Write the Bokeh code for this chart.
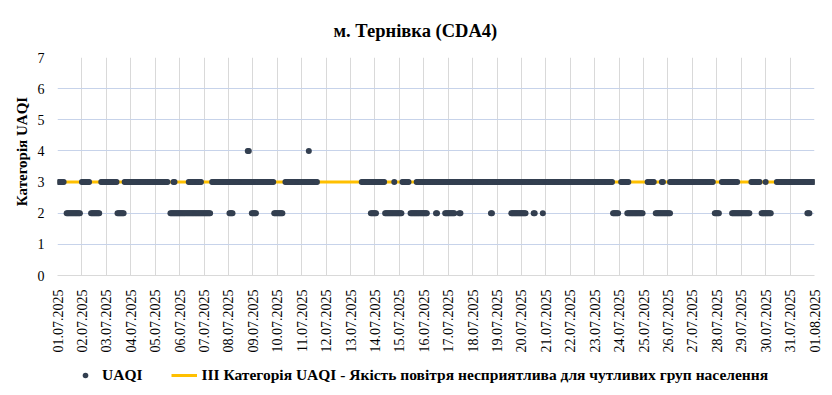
from bokeh.plotting import figure
from bokeh.models import FixedTicker, Legend, LegendItem, Range1d, ColumnDataSource
from bokeh.layouts import column
from bokeh.embed import file_html
from bokeh.resources import INLINE
import math

# ---- data (hour index since 01.07.2025 00:00; runs of hourly points) ----
day_labels = ["01.07.2025", "02.07.2025", "03.07.2025", "04.07.2025", "05.07.2025",
              "06.07.2025", "07.07.2025", "08.07.2025", "09.07.2025", "10.07.2025",
              "11.07.2025", "12.07.2025", "13.07.2025", "14.07.2025", "15.07.2025",
              "16.07.2025", "17.07.2025", "18.07.2025", "19.07.2025", "20.07.2025",
              "21.07.2025", "22.07.2025", "23.07.2025", "24.07.2025", "25.07.2025",
              "26.07.2025", "27.07.2025", "28.07.2025", "29.07.2025", "30.07.2025",
              "31.07.2025", "01.08.2025"]

cat3_runs = [(1, 6), (24, 31), (43, 58), (66, 108), (114, 115), (129, 141), (152, 212),
             (224, 240), (242, 255), (299, 321), (331, 331), (339, 345), (353, 545),
             (554, 561), (580, 586), (594, 595), (602, 644), (653, 668), (682, 690),
             (696, 696), (707, 744)]
cat2_runs = [(9, 22), (33, 41), (59, 65), (111, 150), (169, 172), (191, 195), (213, 221),
             (308, 313), (322, 338), (347, 363), (372, 373), (381, 390), (395, 396),
             (426, 427), (446, 460), (468, 469), (477, 477), (546, 551), (560, 575),
             (588, 602), (646, 650), (663, 680), (692, 701), (737, 739)]
cat4_runs = [(187, 188), (247, 247)]

threshold_value = 3
y_ticks = [0, 1, 2, 3, 4, 5, 6, 7]
series_name = "UAQI"
threshold_name = "III Категорія UAQI - Якість повітря несприятлива для чутливих груп населення"

xs, ys = [], []
for runs, val in ((cat3_runs, 3), (cat2_runs, 2), (cat4_runs, 4)):
    for a, b in runs:
        for h in range(a, b + 1):
            xs.append(h)
            ys.append(val)

n_hours = 24 * (len(day_labels) - 1)
day_ticks = [24 * i for i in range(len(day_labels))]

SERIF = "Liberation Serif"
DOT = "#333F50"
GOLD = "#FFC000"

p = figure(frame_width=757, frame_height=218, output_backend="svg", toolbar_location=None,
           x_range=Range1d(0, n_hours), y_range=Range1d(0, 7),
           min_border_left=57, min_border_right=18, min_border_top=57, min_border_bottom=80)
p.outline_line_color = None
p.background_fill_color = "white"
p.border_fill_color = "white"

p.title.text = "м. Тернівка (CDA4)"
p.title.align = "left"
p.title.text_font = SERIF
p.title.text_font_style = "bold"
p.title.text_font_size = "18.5px"
p.title.text_color = "#000000"
p.title.standoff = 33
p.title.offset = 276

line_r = p.line([0, n_hours], [threshold_value, threshold_value], line_color=GOLD, line_width=3)
src = ColumnDataSource(dict(x=xs, y=ys))
pts = p.scatter("x", "y", source=src, size=6, fill_color=DOT, line_color=None)

# axes
p.xaxis.ticker = FixedTicker(ticks=day_ticks)
p.xaxis.major_label_overrides = {t: lab for t, lab in zip(day_ticks, day_labels)}
p.xaxis.major_label_orientation = math.pi / 2
p.xaxis.major_label_text_font = SERIF
p.xaxis.major_label_text_font_size = "14px"
p.xaxis.major_label_text_color = "#000000"
p.xaxis.major_label_standoff = 8
p.xaxis.major_tick_line_color = None
p.xaxis.minor_tick_line_color = None
p.xaxis.axis_line_color = "#D9D9D9"

p.yaxis.ticker = FixedTicker(ticks=y_ticks)
p.yaxis.major_label_text_font = SERIF
p.yaxis.major_label_text_font_size = "14px"
p.yaxis.major_label_text_color = "#000000"
p.yaxis.major_label_standoff = 7
p.yaxis.major_tick_line_color = None
p.yaxis.minor_tick_line_color = None
p.yaxis.axis_line_color = None
p.yaxis.axis_label = "\u00a0" * 8 + "Категорія UAQI"
p.yaxis.axis_label_text_font = SERIF
p.yaxis.axis_label_text_font_style = "bold"
p.yaxis.axis_label_text_font_size = "15px"
p.yaxis.axis_label_text_color = "#000000"
p.yaxis.axis_label_standoff = 5

p.xgrid.ticker = FixedTicker(ticks=day_ticks)
p.xgrid.grid_line_color = "#D9D9D9"
p.ygrid.ticker = FixedTicker(ticks=y_ticks)
p.ygrid.grid_line_color = "#C7D3EA"

# ---- legend strip under the chart ----
lg = figure(width=832, height=40, output_backend="svg", toolbar_location=None,
            x_range=Range1d(0, 1), y_range=Range1d(0, 1),
            x_axis_location=None, y_axis_location=None, min_border=0)
lg.outline_line_color = None
lg.grid.visible = False
lg.background_fill_color = "white"
lg.border_fill_color = "white"
lg_pts = lg.scatter([-5], [-5], size=6, fill_color=DOT, line_color=None)
lg_line = lg.line([-5, -4], [-5, -5], line_color=GOLD, line_width=3)

legend = Legend(items=[LegendItem(label=series_name, renderers=[lg_pts]),
                       LegendItem(label=threshold_name, renderers=[lg_line])],
                orientation="horizontal", location=(15, 11))
legend.label_text_font = SERIF
legend.label_text_font_style = "bold"
legend.label_text_font_size = "15.5px"
legend.label_text_color = "#000000"
legend.glyph_width = 26
legend.glyph_height = 14
legend.label_standoff = 4
legend.spacing = 29
legend.border_line_color = None
legend.background_fill_alpha = 0
legend.padding = 0
legend.margin = 0
lg.add_layout(legend)

layout = column(p, lg, spacing=0)
open("out.html", "w").write(file_html(layout, INLINE))
